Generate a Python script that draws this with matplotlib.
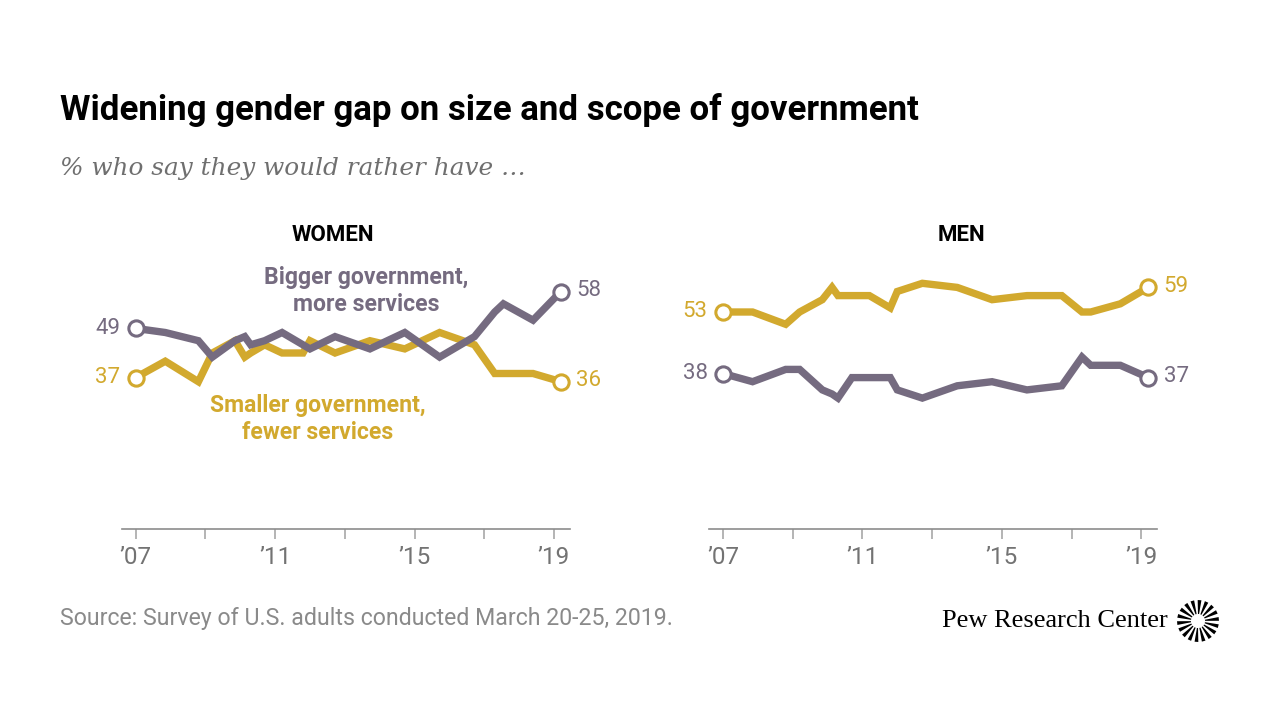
import matplotlib
matplotlib.use("Agg")
import matplotlib.pyplot as plt
import numpy as np

# ---------------- data ----------------
dates = [2007.0, 2007.85, 2008.8, 2009.2, 2009.85, 2010.13, 2010.3, 2010.7, 2011.2, 2011.8,
         2012.0, 2012.72, 2013.72, 2014.72, 2015.72, 2016.72, 2017.3, 2017.55, 2018.4, 2019.2]
women_bigger = [49, 48, 46, 42, 46, 47, 45, 46, 48, 45, 44, 47, 44, 48, 42, 47, 53, 55, 51, 58]
women_smaller = [37, 41, 36, 43, 46, 42, 43, 45, 43, 43, 46, 43, 46, 44, 48, 45, 38, 38, 38, 36]
men_bigger = [38, 36, 39, 39, 34, 33, 32, 37, 37, 37, 34, 32, 35, 36, 34, 35, 42, 40, 40, 37]
men_smaller = [53, 53, 50, 53, 56, 59, 57, 57, 57, 54, 58, 60, 59, 56, 57, 57, 53, 53, 55, 59]
tick_years = [2007, 2009, 2011, 2013, 2015, 2017, 2019]
tick_labels = ["\u201907", "", "\u201911", "", "\u201915", "", "\u201919"]

title = "Widening gender gap on size and scope of government"
subtitle = "% who say they would rather have \u2026"
source = "Source: Survey of U.S. adults conducted March 20-25, 2019."

PURPLE = "#756b80"
GOLD = "#d2a92e"

plt.rcParams['font.family'] = ['Roboto', 'DejaVu Sans']

fig = plt.figure(figsize=(12.8, 7.2), dpi=100)
W, H = 1280, 720

def px_ax(left, right, ytop, ybot):
    return fig.add_axes([left / W, 1 - ybot / H, (right - left) / W, (ybot - ytop) / H])

YMAX = 70
ybot = 529.3
ytop = ybot - 4.1 * YMAX

axW = px_ax(121.7, 570, ytop, ybot)
axM = px_ax(709, 1157.3, ytop, ybot)

def style(ax):
    ax.set_xlim(2006.6, 2019.46)
    ax.set_ylim(0, YMAX)
    for s in ['top', 'right', 'left']:
        ax.spines[s].set_visible(False)
    ax.spines['bottom'].set_color('#8c8c8c')
    ax.spines['bottom'].set_linewidth(1.2)
    ax.set_yticks([])
    ax.set_xticks(tick_years)
    ax.set_xticklabels(tick_labels, fontsize=17.5, color='#737373')
    ax.tick_params(axis='x', length=7, width=1.1, color='#a0a0a0', pad=5)
    ax.patch.set_visible(False)

for ax in (axW, axM):
    style(ax)

def draw(ax, ys, color):
    ax.plot(dates, ys, color=color, lw=5.3, solid_joinstyle='miter', solid_capstyle='butt', zorder=3)
    ax.plot([dates[0], dates[-1]], [ys[0], ys[-1]], ls='none', marker='o', ms=11,
            mfc='white', mec=color, mew=2.2, zorder=4)
    ax.annotate(str(ys[0]), (dates[0], ys[0]), xytext=(-11, 0), textcoords='offset points',
                ha='right', va='center', color=color, fontsize=16)
    ax.annotate(str(ys[-1]), (dates[-1], ys[-1]), xytext=(11, 1), textcoords='offset points',
                ha='left', va='center', color=color, fontsize=16)

draw(axW, women_smaller, GOLD)
draw(axW, women_bigger, PURPLE)
draw(axM, men_smaller, GOLD)
draw(axM, men_bigger, PURPLE)

fig.text(366.5 / W, 1 - 291 / H, "Bigger government,\nmore services",
         ha='center', va='center', color=PURPLE, fontsize=16.6, fontweight='bold', linespacing=1.2)
fig.text(318 / W, 1 - 419 / H, "Smaller government,\nfewer services",
         ha='center', va='center', color=GOLD, fontsize=16.6, fontweight='bold', linespacing=1.2)

fig.text(333 / W, 1 - 235 / H, "WOMEN", ha='center', va='center', fontsize=16, fontweight='bold')
fig.text(961 / W, 1 - 235 / H, "MEN", ha='center', va='center', fontsize=16, fontweight='bold')

fig.text(60 / W, 1 - 110 / H, title, ha='left', va='center', fontsize=25.1, fontweight='bold')
fig.text(60 / W, 1 - 168 / H, subtitle, ha='left', va='center', fontsize=17.8, style='italic',
         color='#6f6f6f', family=['DejaVu Serif'])
fig.text(60 / W, 1 - 619 / H, source, ha='left', va='center', fontsize=16.7, color='#8a8a8a')

# logo
fig.text(1168 / W, 1 - 621 / H, "Pew Research Center", ha='right', va='center', fontsize=19,
         family=['Liberation Serif'], color='black')
lax = fig.add_axes([(1198 - 22) / W, 1 - (621 + 22) / H, 44 / W, 44 / H])
lax.set_xlim(-1, 1)
lax.set_ylim(-1, 1)
lax.set_aspect('equal')
lax.axis('off')
n = 18
for k in range(n):
    a = 2 * np.pi * k / n + 0.1
    r0, r1 = 0.32, 0.95
    w = 0.085
    ca, sa = np.cos(a), np.sin(a)
    px, py = -sa, ca
    poly = [(r0 * ca + px * w * 0.3, r0 * sa + py * w * 0.3),
            (r1 * ca + px * w, r1 * sa + py * w),
            (r1 * ca - px * w, r1 * sa - py * w),
            (r0 * ca - px * w * 0.3, r0 * sa - py * w * 0.3)]
    lax.add_patch(plt.Polygon(poly, closed=True, color='black', lw=0))

fig.savefig("out.png", dpi=100, facecolor='white')
